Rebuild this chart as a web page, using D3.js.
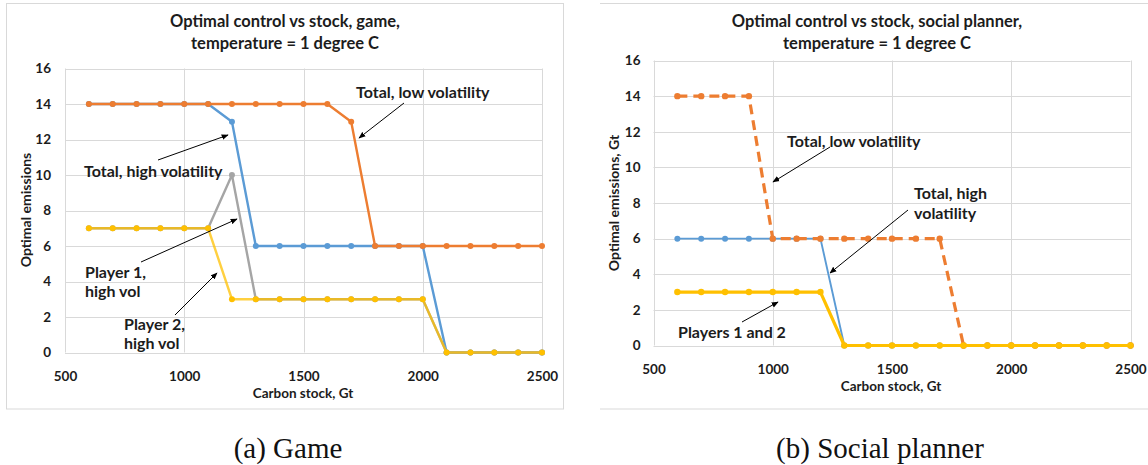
<!DOCTYPE html>
<html><head><meta charset="utf-8">
<script src="https://cdn.jsdelivr.net/npm/d3@7"></script>
<style>
body{margin:0;background:#fff}
svg{display:block}
text{font-family:Lato,"Liberation Sans",sans-serif;font-weight:700;fill:#1c1c1c}
text.cap{font-family:"Liberation Serif",serif;font-weight:400;fill:#111}
</style>
</head><body>
<svg id="chart" width="1148" height="465"></svg>
<script>
// ---- data ----
const stock = [600,700,800,900,1000,1100,1200,1300,1400,1500,1600,1700,1800,1900,2000,2100,2200,2300,2400,2500];
const gameLowVol    = [14,14,14,14,14,14,14,14,14,14,14,13,6,6,6,6,6,6,6,6];
const gameHighVol   = [14,14,14,14,14,14,13,6,6,6,6,6,6,6,6,0,0,0,0,0];
const gamePlayer1   = [7,7,7,7,7,7,10,3,3,3,3,3,3,3,3,0,0,0,0,0];
const gamePlayer2   = [7,7,7,7,7,7,3,3,3,3,3,3,3,3,3,0,0,0,0,0];
const plannerLowVol  = [14,14,14,14,6,6,6,6,6,6,6,6,0,0,0,0,0,0,0,0];
const plannerHighVol = [6,6,6,6,6,6,6,0,0,0,0,0,0,0,0,0,0,0,0,0];
const plannerPlayers = [3,3,3,3,3,3,3,0,0,0,0,0,0,0,0,0,0,0,0,0];
const xTicks = [500,1000,1500,2000,2500];
const yTicks = [0,2,4,6,8,10,12,14,16];
const titlesGame = ["Optimal control vs stock, game,","temperature = 1 degree C"];
const titlesPlanner = ["Optimal control vs stock, social planner,","temperature = 1 degree C"];
const captions = ["(a) Game","(b) Social planner"];

const C = {orange:"#ED7D31", blue:"#5B9BD5", gray:"#A5A5A5", gold:"#FFC000"};

const svg = d3.select("#chart");
svg.append("defs").append("marker")
  .attr("id","arr").attr("viewBox","0 0 10 10").attr("refX",9).attr("refY",5)
  .attr("markerWidth",7).attr("markerHeight",7).attr("markerUnits","userSpaceOnUse")
  .attr("orient","auto")
  .append("path").attr("d","M0,1 L10,5 L0,9 Z").attr("fill","#000");

// panel frames
svg.append("rect").attr("x",6.5).attr("y",3.5).attr("width",557).attr("height",405.5)
  .attr("fill","none").attr("stroke","#d9d9d9");
svg.append("line").attr("x1",600).attr("x2",1148).attr("y1",3.5).attr("y2",3.5).attr("stroke","#d9d9d9");
svg.append("line").attr("x1",600).attr("x2",1148).attr("y1",409).attr("y2",409).attr("stroke","#d9d9d9");

function panel(cfg){
  const g = svg.append("g");
  const x = d3.scaleLinear().domain([500,2500]).range(cfg.xr);
  const y = d3.scaleLinear().domain([0,16]).range(cfg.yr);
  // grid
  g.append("g").selectAll("line").data(yTicks).join("line")
    .attr("x1",cfg.xr[0]).attr("x2",cfg.xr[1])
    .attr("y1",d=>Math.round(y(d))+0.5).attr("y2",d=>Math.round(y(d))+0.5)
    .attr("stroke","#d9d9d9").attr("stroke-width",1);
  g.append("g").selectAll("line").data(xTicks).join("line")
    .attr("x1",d=>Math.round(x(d))+0.5).attr("x2",d=>Math.round(x(d))+0.5)
    .attr("y1",cfg.yr[0]).attr("y2",cfg.yr[1])
    .attr("stroke","#d9d9d9").attr("stroke-width",1);
  // axes labels
  const ya = d3.axisLeft(y).tickValues(yTicks).tickFormat(d3.format("d")).tickSize(0).tickPadding(cfg.ypad);
  g.append("g").attr("transform",`translate(${cfg.xr[0]},0)`).call(ya)
    .call(s=>s.select(".domain").remove())
    .selectAll("text").attr("font-size",13.5).attr("fill","#1c1c1c");
  const xa = d3.axisBottom(x).tickValues(xTicks).tickFormat(d3.format("d")).tickSize(0).tickPadding(cfg.xpad);
  g.append("g").attr("transform",`translate(0,${cfg.yr[0]})`).call(xa)
    .call(s=>s.select(".domain").remove())
    .selectAll("text").attr("font-size",13.5).attr("fill","#1c1c1c");
  // titles
  cfg.titles.forEach((t,i)=>g.append("text").attr("x",cfg.tx).attr("y",cfg.ty[i])
    .attr("text-anchor","middle").attr("dominant-baseline","central").attr("font-size",16.5).text(t));
  g.append("text").attr("x",cfg.xtx).attr("y",cfg.xty).attr("text-anchor","middle")
    .attr("dominant-baseline","central").attr("font-size",13.5).text("Carbon stock, Gt");
  g.append("text").attr("transform",`translate(${cfg.ytx},${cfg.yty}) rotate(-90)`)
    .attr("text-anchor","middle").attr("dominant-baseline","central").attr("font-size",14).text(cfg.ylabel);
  // series
  const line = d3.line().x((d,i)=>x(stock[i])).y(d=>y(d));
  cfg.series.forEach(s=>{
    g.append("path").attr("d",line(s.values)).attr("fill","none")
      .attr("stroke",s.color).attr("stroke-width",s.w).attr("stroke-opacity",s.op||1)
      .attr("stroke-dasharray",s.dash||null).attr("stroke-linejoin","round");
    g.append("g").selectAll("circle").data(s.values).join("circle")
      .attr("cx",(d,i)=>x(stock[i])).attr("cy",d=>y(d)).attr("r",s.r||3).attr("fill",s.color);
  });
  // annotations
  cfg.notes.forEach(n=>{
    n.lines.forEach((t,i)=>g.append("text").attr("x",n.x).attr("y",n.y+i*n.lh)
      .attr("dominant-baseline","central").attr("font-size",16).text(t));
    g.append("line").attr("x1",n.a[0]).attr("y1",n.a[1]).attr("x2",n.a[2]).attr("y2",n.a[3])
      .attr("stroke","#000").attr("stroke-width",1).attr("marker-end","url(#arr)");
  });
}

panel({
  xr:[65,542], yr:[352.5,68.5], ypad:14, xpad:19,
  titles:titlesGame, tx:285, ty:[21,43],
  xtx:303, xty:393, ytx:25, yty:210, ylabel:"Optimal emissions",
  series:[
    {values:gameHighVol, color:C.blue, w:2.4},
    {values:gameLowVol, color:C.orange, w:2.4},
    {values:gamePlayer1, color:C.gray, w:2.4},
    {values:gamePlayer2, color:C.gold, w:2.4, op:0.75}
  ],
  notes:[
    {lines:["Total, low volatility"], x:356, y:91, lh:0, a:[404,103,359,138]},
    {lines:["Total, high volatility"], x:84, y:170, lh:0, a:[158,160,228,135]},
    {lines:["Player 1,","high vol"], x:85, y:271, lh:19.5, a:[141,262,237,219]},
    {lines:["Player 2,","high vol"], x:124, y:323, lh:19, a:[175,315,217,273]}
  ]
});

panel({
  xr:[653.5,1130.5], yr:[345.5,60.5], ypad:13, xpad:19,
  titles:titlesPlanner, tx:877, ty:[21,43],
  xtx:891, xty:385.5, ytx:613.5, yty:203, ylabel:"Optimal emissions, Gt",
  series:[
    {values:plannerHighVol, color:C.blue, w:1.9},
    {values:plannerLowVol, color:C.orange, w:3.2, dash:"10,6", r:3.2},
    {values:plannerPlayers, color:C.gold, w:3.2, r:3.2}
  ],
  notes:[
    {lines:["Total, low volatility"], x:787, y:140, lh:0, a:[830,147,773,182]},
    {lines:["Total, high","volatility"], x:914, y:192, lh:20, a:[908,210,830,273]},
    {lines:["Players 1 and 2"], x:678, y:331, lh:0, a:[742,322,778,302]}
  ]
});

svg.selectAll("text.capt").data(captions).join("text").attr("class","cap")
  .attr("x",(d,i)=>[288,880][i]).attr("y",448).attr("text-anchor","middle")
  .attr("dominant-baseline","central").attr("font-size",29).text(d=>d);
</script>
</body></html>
